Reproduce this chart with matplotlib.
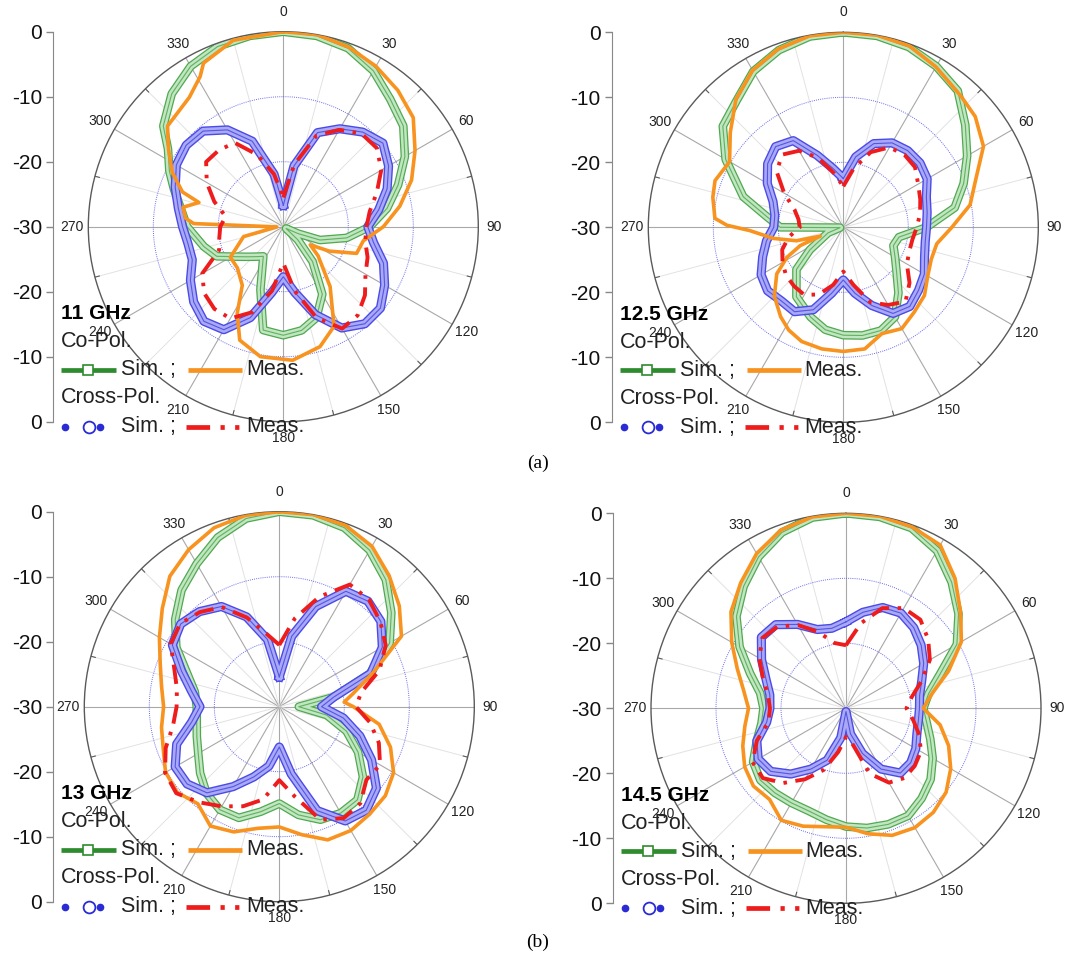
import numpy as np
import matplotlib
matplotlib.use("Agg")
import matplotlib.pyplot as plt
import matplotlib.patheffects as pe

plt.rcParams["font.family"] = ["Liberation Sans", "DejaVu Sans"]

W, H = 1073, 959
R_PX = 195.0

# ---------------- data (dB, angle in degrees, clockwise from top) ----------------
ANG10 = list(range(0, 370, 10))
FREQS = ["11 GHz", "12.5 GHz", "13 GHz", "14.5 GHz"]

# 11 GHz
P1_CO_SIM_ANG = [0, 10, 20, 30, 40, 50, 60, 70, 80, 90, 100, 110, 115, 122, 132, 140, 150, 160, 170, 180,
                 191, 200, 214, 222, 230, 238, 246, 256, 270, 280, 289, 296, 304, 310, 320, 330, 340, 350, 360]
P1_CO_SIM_DB = [0, -0.2, -0.8, -2.3, -4.4, -5.9, -8.4, -11.2, -13.8, -16.7, -20.1, -24, -27.5, -29.5, -27, -23,
                -18, -15.1, -13.8, -13.3, -13.8, -19.7, -24.5, -23.8, -22.8, -21.3, -18.8, -17.4, -15.2, -14,
                -12.2, -10.5, -8.6, -5.9, -3.3, -1.5, -0.5, -0.2, 0]
P1_CO_MEAS_ANG = [0, 10, 20, 30, 40, 50, 60, 70, 80, 90, 100, 110, 118, 124, 130, 142, 153, 163, 176, 190,
                  201, 208, 215, 228, 240, 256, 268, 272, 275, 281, 286, 289, 296, 304, 311, 324, 331, 334, 345, 360]
P1_CO_MEAS_DB = [0, 0, -0.6, -1.5, -2.6, -3.9, -6.6, -9, -11.8, -14.6, -17.5, -18, -22, -25, -23, -18.3, -12.8,
                 -10.7, -9.4, -9.7, -11.3, -14.9, -19, -20.5, -20.6, -23.7, -29, -16.2, -14.9, -14.3, -16.5,
                 -13.6, -11, -8.7, -6.4, -5.4, -3.6, -2, -0.3, 0]
P1_X_SIM_DB = [-26.7, -20.5, -14.6, -12.6, -11, -10, -11.3, -13, -15.1, -17, -15.9, -13.6, -12, -10.5, -10.5,
               -12, -15.6, -19.7, -22.3, -19.7, -15.1, -11.7, -11, -12, -13.5, -15.1, -15.1, -14.5, -13.6,
               -12.3, -11, -10.5, -10.8, -12.8, -16, -21.8, -26.7]
P1_X_MEAS_DB = [-25.5, -20.3, -15.1, -12.8, -11.3, -11.2, -12.6, -14.7, -16.5, -17.2, -17.2, -16.2, -15.4,
                -13.6, -12.2, -11.9, -15.1, -20, -24.4, -20, -16, -13.7, -13.5, -14.1, -15.6, -19.5, -20,
                -20.3, -21, -18.7, -16.4, -14.5, -14.6, -15.1, -18.2, -21.8, -25.5]

# 12.5 GHz
P2_CO_SIM_ANG = [0, 10, 20, 30, 40, 50, 60, 70, 80, 90, 100, 110, 120, 130, 140, 150, 160, 170, 180, 190,
                 200, 214, 228, 236, 250, 264, 270, 278, 287, 300, 310, 320, 330, 340, 350, 360]
P2_CO_SIM_DB = [0, -0.1, -0.5, -1.4, -2.6, -5.5, -8, -10.3, -12.6, -17.2, -21.3, -21.8, -20.8, -19.3, -16.8,
                -14.1, -13.1, -13.1, -13.4, -14, -15.3, -17.1, -20.3, -23.8, -27.5, -29.5, -20.3, -18.1,
                -13.9, -9.1, -5.8, -4.5, -2.3, -1, -0.2, 0]
P2_CO_MEAS_ANG = [0, 10, 20, 30, 42, 50, 60, 70, 80, 90, 100, 110, 120, 130, 140, 150, 160, 170, 180, 190,
                  200, 208, 215, 225, 235, 242, 247, 249, 254, 261, 268, 271, 274, 283, 290, 300, 310, 320,
                  330, 340, 350, 360]
P2_CO_MEAS_DB = [0, 0, -0.3, -1.5, -2.9, -3.5, -5.1, -8.3, -10.2, -13.3, -15.4, -15.6, -15, -13.7, -13, -12,
                 -12.6, -11, -10.9, -11, -11.3, -12.1, -13.2, -15, -17.5, -20.2, -22.8, -26.2, -22.5, -19.1,
                 -15.6, -12.1, -10.2, -9.4, -9, -9.8, -7.3, -4.3, -2.1, -0.8, -0.1, 0]
P2_X_SIM_DB = [-22.5, -19, -16.3, -15, -14.6, -14.6, -15.1, -16.4, -16.9, -17.2, -17.2, -16.7, -15.6, -14.9,
               -14.1, -14.7, -17.2, -19.7, -21.9, -19.7, -16.5, -15, -15.2, -14.8, -15.4, -16.8, -18, -19.3,
               -19.3, -18.5, -16.5, -14.8, -13.8, -14.6, -18.2, -20.8, -22.5]
P2_X_MEAS_DB = [-23.7, -20.8, -17.7, -15.8, -15.4, -15.6, -16.7, -17.4, -18, -18.7, -19.2, -19.2, -18.7,
                -16.7, -15.1, -16.2, -17.7, -21, -23.2, -21, -19, -18, -18.2, -18.5, -19.2, -20, -21.5,
                -23.3, -23, -22, -19.5, -16.6, -15.4, -16.4, -18.6, -21.5, -23.7]

# 13 GHz
P3_CO_SIM_DB = [0, -0.1, -0.7, -2.2, -4.5, -7.5, -10.4, -15.2, -21.5, -27, -22.6, -19, -16, -13.2, -11.3,
                -11.1, -11.5, -13.1, -15.1, -13.6, -11.8, -11.7, -12.6, -14.1, -15.6, -16.5, -17.1, -17.3,
                -16.8, -14.9, -11.7, -9.1, -6.6, -4.6, -2.3, -0.6, 0]
P3_CO_MEAS_ANG = [0, 10, 20, 30, 40, 50, 60, 70, 80, 86, 90, 100, 110, 120, 130, 140, 150, 160, 170, 180,
                  190, 200, 210, 220, 230, 240, 250, 260, 270, 280, 290, 300, 310, 320, 330, 340, 350, 360]
P3_CO_MEAS_DB = [0, 0, -0.3, -1.5, -3.7, -5.9, -8.3, -14.6, -18.5, -20, -18.6, -14.4, -11.8, -9.7, -8.7, -8.4,
                 -8, -8.2, -10, -11.5, -11, -9.5, -8.8, -10.5, -9.5, -9.8, -11, -11.6, -12.2, -11.6, -10.5,
                 -8.7, -6.5, -3.8, -2.1, -0.7, -0.1, 0]
P3_X_SIM_DB = [-25.4, -19, -13.6, -9.5, -8.8, -9.6, -11.7, -15, -21.5, -23.5, -20, -16.8, -13.6, -10.5, -9.2,
               -9.7, -13, -19.5, -23.8, -20.7, -18.5, -15.8, -12.7, -11.5, -11.5, -13.2, -16.3, -17.8, -16.3,
               -14, -11, -10.2, -10.9, -12.2, -15.3, -19.5, -25.4]
P3_X_MEAS_DB = [-20.5, -16.2, -12, -8.3, -8.5, -9.7, -11.1, -13.6, -17.2, -18.2, -15.8, -13.7, -12.1, -12.5,
                -10.6, -10.2, -11.5, -15.9, -18.7, -15.5, -13.7, -12.3, -10.8, -9.3, -9.7, -11.4, -13.4,
                -14.2, -14, -12.8, -10.7, -10.1, -11, -12.3, -15.4, -18.6, -20.5]

# 14.5 GHz
P4_CO_SIM_DB = [0, -0.1, -0.5, -2, -4.7, -7.4, -10.3, -14.6, -17.1, -18.1, -17.4, -16.2, -14.6, -13, -11.9,
                -10.9, -11, -11.3, -11.8, -12.6, -13.2, -13.2, -13, -12.8, -13.5, -15.4, -16.8, -17.3, -16.6,
                -14.3, -11.1, -8, -5.5, -3.1, -1.2, -0.2, 0]
P4_CO_MEAS_DB = [0, 0, -0.3, -1, -3.9, -7, -9.5, -13.2, -16.5, -18.1, -15.3, -13.2, -11.4, -9.9, -9.1, -8.8,
                 -9.2, -10.4, -11.7, -11.5, -10.7, -10.1, -11.7, -11.4, -12, -13.1, -14.2, -15, -14, -12.2,
                 -9.7, -6.9, -4.8, -2.5, -0.8, -0.1, 0]
P4_X_SIM_DB = [-16.7, -15, -13.5, -13.1, -13.8, -14.9, -16.2, -17.6, -18.5, -18.7, -18.7, -18.4, -17.6, -17,
               -17, -19.2, -22.6, -26, -29.5, -25.4, -21.5, -19.2, -16.8, -14.9, -14.4, -15.4, -17.6, -18.3,
               -18.1, -16.9, -15, -13, -13.2, -15.1, -17.1, -17.5, -16.7]
P4_X_MEAS_DB = [-20.3, -16.7, -13.6, -12.2, -12.2, -13.5, -15.1, -17.6, -19.7, -20.7, -19.5, -18, -16.7,
                -16.2, -16, -16.8, -19.3, -24.5, -25.6, -23.2, -19.9, -17.4, -15, -13.3, -13.4, -15.4, -17.9,
                -18.3, -17.8, -16.4, -14.6, -13.2, -13.6, -15.2, -17.5, -19.8, -20.3]

SCALE_TICKS = [0, 10, 20, 30, 40, 50, 60]
SCALE_LABELS = ["0", "-10", "-20", "-30", "-20", "-10", "0"]
THETA_LABELS = list(range(0, 360, 30))

# ---------------- layout (pixels) ----------------
CENTERS = [(283.3, 226.7), (843.3, 227.3), (279.3, 706.7), (846.0, 708.3)]
SPINE_X = [53.3, 611.7, 53.3, 612.7]

GREEN = "#2e8b2e"
ORANGE = "#f7931e"
BLUE = "#2b2bd6"
RED = "#ee1c1c"

panels = [
    (P1_CO_SIM_ANG, P1_CO_SIM_DB, P1_CO_MEAS_ANG, P1_CO_MEAS_DB, ANG10, P1_X_SIM_DB, ANG10, P1_X_MEAS_DB),
    (P2_CO_SIM_ANG, P2_CO_SIM_DB, P2_CO_MEAS_ANG, P2_CO_MEAS_DB, ANG10, P2_X_SIM_DB, ANG10, P2_X_MEAS_DB),
    (ANG10, P3_CO_SIM_DB, P3_CO_MEAS_ANG, P3_CO_MEAS_DB, ANG10, P3_X_SIM_DB, ANG10, P3_X_MEAS_DB),
    (ANG10, P4_CO_SIM_DB, ANG10, P4_CO_MEAS_DB, ANG10, P4_X_SIM_DB, ANG10, P4_X_MEAS_DB),
]

fig = plt.figure(figsize=(W / 100, H / 100), dpi=100)
fig.patch.set_facecolor("white")

# band look of the densely marked simulated curves
green_fx = [pe.Stroke(linewidth=6.2, foreground="#4fa94f"), pe.Stroke(linewidth=4.4, foreground="#c2e5c2"), pe.Normal()]
blue_fx = [pe.Stroke(linewidth=6.6, foreground="#4a4ae8"), pe.Stroke(linewidth=4.6, foreground="#a9a9f6"), pe.Normal()]

for k, (cx, cy) in enumerate(CENTERS):
    co_s_a, co_s_d, co_m_a, co_m_d, x_s_a, x_s_d, x_m_a, x_m_d = panels[k]

    ax = fig.add_axes([(cx - R_PX) / W, (H - cy - R_PX) / H, 2 * R_PX / W, 2 * R_PX / H],
                      projection="polar")
    ax.set_theta_zero_location("N")
    ax.set_theta_direction(-1)
    ax.set_rlim(-30, 0)
    ax.set_xticks([])
    ax.set_yticks([])
    ax.grid(False)
    ax.patch.set_alpha(0)
    ax.spines["polar"].set_color("#5a5a5a")
    ax.spines["polar"].set_linewidth(1.0)

    # spokes
    for a in range(0, 360, 15):
        t = np.deg2rad(a)
        if a % 30 == 0:
            ax.plot([t, t], [-30, 0], color="#a8a8a8", lw=0.8, zorder=1)
        else:
            ax.plot([t, t], [-30, 0], color="#e2e2e2", lw=0.7, zorder=1)
            ax.plot([t, t], [-0.7, 0], color="#5a5a5a", lw=0.8, zorder=1)
    circ = np.linspace(0, 2 * np.pi, 361)
    for rr in (-20, -10):
        ax.plot(circ, np.full_like(circ, rr), color="#6b6bf0", lw=0.7, ls=(0, (1, 1.2)), zorder=1)

    for a in THETA_LABELS:
        rl = 3.1 if a == 0 else 2.5
        ax.text(np.deg2rad(a), rl, str(a), ha="center", va="center", fontsize=10,
                color="#222222", clip_on=False)

    ax.plot(np.deg2rad(co_s_a), co_s_d, color="#5fb25f", lw=0.8, zorder=2, path_effects=green_fx)
    ax.plot(np.deg2rad(x_s_a), x_s_d, color="#5555e6", lw=0.8, zorder=3, path_effects=blue_fx)
    ax.plot(np.deg2rad(co_m_a), co_m_d, color=ORANGE, lw=2.6, zorder=4)
    ax.plot(np.deg2rad(x_m_a), x_m_d, color=RED, lw=2.8, zorder=5,
            ls=(0, (5, 2.2, 0.9, 2.2)))

    # left dB scale
    sx = SPINE_X[k]
    sax = fig.add_axes([sx / W, (H - cy - R_PX) / H, 0.001, 2 * R_PX / H])
    sax.set_ylim(0, 60)
    sax.set_xticks([])
    sax.set_yticks(SCALE_TICKS)
    sax.set_yticklabels(SCALE_LABELS)
    sax.tick_params(axis="y", direction="out", length=5, width=1, color="#888888",
                    labelsize=15, pad=3, labelcolor="#111111")
    for s in ("top", "right", "bottom"):
        sax.spines[s].set_visible(False)
    sax.spines["left"].set_color("#888888")
    sax.patch.set_alpha(0)

# ---------------- legends and captions (pixel overlay) ----------------
ov = fig.add_axes([0, 0, 1, 1], zorder=10)
ov.set_xlim(0, W)
ov.set_ylim(H, 0)
ov.axis("off")
ov.patch.set_alpha(0)

for k, (cx, cy) in enumerate(CENTERS):
    x0 = SPINE_X[k]
    fs = 15.5
    ov.text(x0 + 8, cy + 87, FREQS[k], fontsize=15, fontweight="bold", va="center", ha="left")
    ov.text(x0 + 8, cy + 115, "Co-Pol.", fontsize=fs, va="center", ha="left", color="#222222")
    y1 = cy + 143
    ov.plot([x0 + 8, x0 + 63], [y1, y1], color=GREEN, lw=3.4, solid_capstyle="butt")
    ov.plot([x0 + 35], [y1], marker="s", ms=7.5, mfc="white", mec=GREEN, mew=1.2)
    ov.text(x0 + 68, y1, "Sim. ;", fontsize=fs, va="center", ha="left", color="#222222")
    ov.plot([x0 + 135, x0 + 189], [y1, y1], color=ORANGE, lw=3.4, solid_capstyle="butt")
    ov.text(x0 + 193, y1, "Meas.", fontsize=fs, va="center", ha="left", color="#222222")
    ov.text(x0 + 8, cy + 171, "Cross-Pol.", fontsize=fs, va="center", ha="left", color="#222222")
    y2 = cy + 200
    ov.plot([x0 + 12, x0 + 47], [y2, y2], ls="none", marker="o", ms=4.5, color=BLUE)
    ov.plot([x0 + 36], [y2], marker="o", ms=8.5, mfc="white", mec=BLUE, mew=1.3)
    ov.text(x0 + 68, y2, "Sim. ;", fontsize=fs, va="center", ha="left", color="#222222")
    ov.plot([x0 + 133, x0 + 190], [y2, y2], color=RED, lw=3.4, ls=(0, (5, 2.2, 0.9, 2.2, 0.9, 2.2)))
    ov.text(x0 + 193, y2, "Meas.", fontsize=fs, va="center", ha="left", color="#222222")

ov.text(538, 463, "(a)", fontsize=14, ha="center", va="center", family=["Liberation Serif", "DejaVu Serif"])
ov.text(538, 942, "(b)", fontsize=14, ha="center", va="center", family=["Liberation Serif", "DejaVu Serif"])

fig.savefig("out.png", dpi=100, facecolor="white")
